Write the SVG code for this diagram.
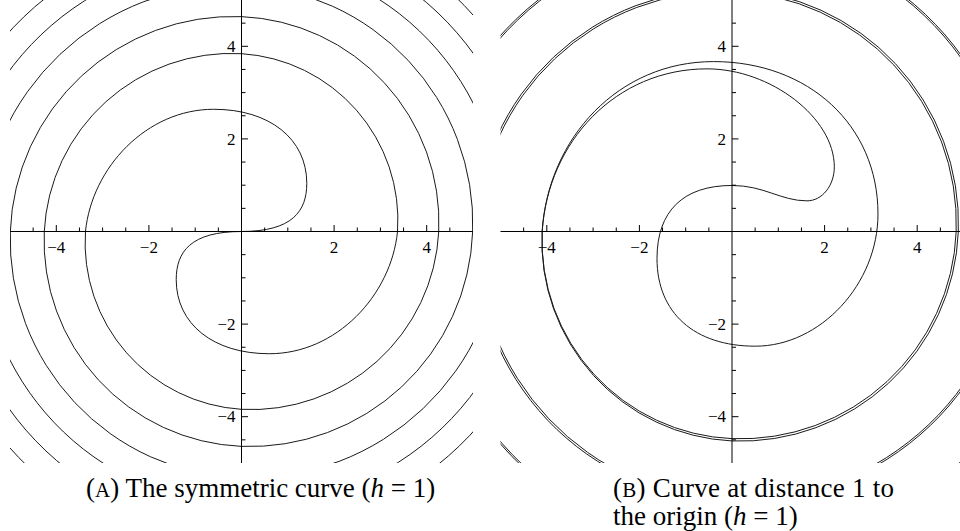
<svg xmlns="http://www.w3.org/2000/svg" xmlns:xlink="http://www.w3.org/1999/xlink" width="960" height="531" viewBox="0 0 960 531">
<defs>
<style>
.crv{fill:none;stroke:#1a1a1a;stroke-width:1;vector-effect:non-scaling-stroke}
.ax{fill:none;stroke:#000;stroke-width:1}
.tk{font-family:"Liberation Serif","Times New Roman",serif;font-size:17px;fill:#000}
.cap{font-family:"Liberation Serif","Times New Roman",serif;font-size:27px;fill:#000}
</style>
<clipPath id="clipA"><rect x="10" y="0" width="463" height="463"/></clipPath>
<clipPath id="clipB"><rect x="500.5" y="0" width="463" height="463"/></clipPath>
</defs>
<g id="plotA">
<g clip-path="url(#clipA)">
<g transform="translate(241.5 231.5) scale(46.3 -46.3)">
<path id="a1" class="crv" d="M0 0C1.1 0 1.41 0.44 1.41 1.04C1.41 2.0 0.606 2.64 -0.6 2.64C-2.05 2.64 -3.23 1.38 -3.37 0A3.6055 3.6055 0 0 1 0 -3.841A4.0505 4.0505 0 0 1 4.26 0A4.4505 4.4505 0 0 1 0 4.641A4.817 4.817 0 0 1 -4.993 0A5.1575 5.1575 0 0 1 0 -5.322A5.477 5.477 0 0 1 5.632 0A5.7785 5.7785 0 0 1 0 5.925A6.065 6.065 0 0 1 -6.205 0A6.339 6.339 0 0 1 0 -6.473A6.6015 6.6015 0 0 1 6.73 0A6.8535 6.8535 0 0 1 0 6.977A7.0965 7.0965 0 0 1 -7.216 0"/>
<path class="crv" transform="rotate(180)" d="M0 0C1.1 0 1.41 0.44 1.41 1.04C1.41 2.0 0.606 2.64 -0.6 2.64C-2.05 2.64 -3.23 1.38 -3.37 0A3.6055 3.6055 0 0 1 0 -3.841A4.0505 4.0505 0 0 1 4.26 0A4.4505 4.4505 0 0 1 0 4.641A4.817 4.817 0 0 1 -4.993 0A5.1575 5.1575 0 0 1 0 -5.322A5.477 5.477 0 0 1 5.632 0A5.7785 5.7785 0 0 1 0 5.925A6.065 6.065 0 0 1 -6.205 0A6.339 6.339 0 0 1 0 -6.473A6.6015 6.6015 0 0 1 6.73 0A6.8535 6.8535 0 0 1 0 6.977A7.0965 7.0965 0 0 1 -7.216 0"/>
</g>
</g>
<g id="axesA" transform="translate(241.5 231.5)">
<path class="ax" d="M-231.5 0H231.5M0 -231.5V231.5"/>
<path class="ax" d="M23.15 0v-4M46.3 0v-4M69.45 0v-4M115.75 0v-4M138.9 0v-4M162.05 0v-4M208.35 0v-4M-23.15 0v-4M-46.3 0v-4M-69.45 0v-4M-115.75 0v-4M-138.9 0v-4M-162.05 0v-4M-208.35 0v-4M92.6 0v-6.5M185.2 0v-6.5M-92.6 0v-6.5M-185.2 0v-6.5"/>
<path class="ax" d="M0 23.15h4M0 46.3h4M0 69.45h4M0 115.75h4M0 138.9h4M0 162.05h4M0 208.35h4M0 -23.15h4M0 -46.3h4M0 -69.45h4M0 -115.75h4M0 -138.9h4M0 -162.05h4M0 -208.35h4M0 92.6h6.5M0 185.2h6.5M0 -92.6h6.5M0 -185.2h6.5"/>
<text class="tk" text-anchor="middle" x="-185.2" y="21">−4</text>
<text class="tk" text-anchor="middle" x="-92.6" y="21">−2</text>
<text class="tk" text-anchor="middle" x="92.6" y="21">2</text>
<text class="tk" text-anchor="middle" x="185.2" y="21">4</text>
<text class="tk" text-anchor="end" x="-6" y="-179.6">4</text>
<text class="tk" text-anchor="end" x="-6" y="-87">2</text>
<text class="tk" text-anchor="end" x="-6" y="98.2">−2</text>
<text class="tk" text-anchor="end" x="-6" y="190.8">−4</text>
</g>
</g>
<g id="plotB">
<g clip-path="url(#clipB)">
<g transform="translate(732 231.5) scale(46.3 -46.3)">
<path id="bR" class="crv" d="M0 0.994C0.7 0.994 1.05 0.662 1.62 0.662C1.946 0.662 2.21 0.991 2.21 1.397C2.21 2.455 0.835 3.513 -0.54 3.513C-2.506 3.513 -3.976 1.94 -4.1 0A4.312 4.312 0 0 1 0 -4.524A4.706 4.706 0 0 1 4.888 0A5.058 5.058 0 0 1 0 5.228A5.387 5.387 0 0 1 -5.546 0A5.6965 5.6965 0 0 1 0 -5.847A5.99 5.99 0 0 1 6.133 0A6.27 6.27 0 0 1 0 6.407A6.538 6.538 0 0 1 -6.669 0A6.795 6.795 0 0 1 0 -6.921A7.043 7.043 0 0 1 7.165 0"/>
<path id="bL" class="crv" d="M0 0.994C-1.053 0.994 -1.62 0.442 -1.62 -0.583C-1.62 -1.757 -0.813 -2.477 0.504 -2.477C1.908 -2.477 3.153 -1.134 3.153 0.38C3.153 2.288 1.661 3.67 -0.4 3.67C-2.443 3.67 -3.97 2.03 -4.1 0A4.287 4.287 0 0 1 0 -4.474A4.658 4.658 0 0 1 4.842 0A5.013 5.013 0 0 1 0 5.184A5.3445 5.3445 0 0 1 -5.505 0A5.657 5.657 0 0 1 0 -5.809A5.953 5.953 0 0 1 6.097 0A6.234 6.234 0 0 1 0 6.371A6.503 6.503 0 0 1 -6.635 0A6.762 6.762 0 0 1 0 -6.889A7.011 7.011 0 0 1 7.133 0"/>
</g>
</g>
<g id="axesB" transform="translate(732 231.5)">
<path class="ax" d="M-231.5 0H231.5M0 -231.5V231.5"/>
<path class="ax" d="M23.15 0v-4M46.3 0v-4M69.45 0v-4M115.75 0v-4M138.9 0v-4M162.05 0v-4M208.35 0v-4M-23.15 0v-4M-46.3 0v-4M-69.45 0v-4M-115.75 0v-4M-138.9 0v-4M-162.05 0v-4M-208.35 0v-4M92.6 0v-6.5M185.2 0v-6.5M-92.6 0v-6.5M-185.2 0v-6.5"/>
<path class="ax" d="M0 23.15h4M0 46.3h4M0 69.45h4M0 115.75h4M0 138.9h4M0 162.05h4M0 208.35h4M0 -23.15h4M0 -46.3h4M0 -69.45h4M0 -115.75h4M0 -138.9h4M0 -162.05h4M0 -208.35h4M0 92.6h6.5M0 185.2h6.5M0 -92.6h6.5M0 -185.2h6.5"/>
<text class="tk" text-anchor="middle" x="-185.2" y="21">−4</text>
<text class="tk" text-anchor="middle" x="-92.6" y="21">−2</text>
<text class="tk" text-anchor="middle" x="92.6" y="21">2</text>
<text class="tk" text-anchor="middle" x="185.2" y="21">4</text>
<text class="tk" text-anchor="end" x="-6" y="-179.6">4</text>
<text class="tk" text-anchor="end" x="-6" y="-87">2</text>
<text class="tk" text-anchor="end" x="-6" y="98.2">−2</text>
<text class="tk" text-anchor="end" x="-6" y="190.8">−4</text>
</g>
</g>
<g id="captions">
<text class="cap" x="86" y="497">(<tspan font-size="21">A</tspan>) The symmetric curve (<tspan font-style="italic">h</tspan> = 1)</text>
<text class="cap" x="613" y="497" textLength="281" lengthAdjust="spacing">(<tspan font-size="21">B</tspan>) Curve at distance 1 to</text>
<text class="cap" x="613" y="525">the origin (<tspan font-style="italic">h</tspan> = 1)</text>
</g>
</svg>
